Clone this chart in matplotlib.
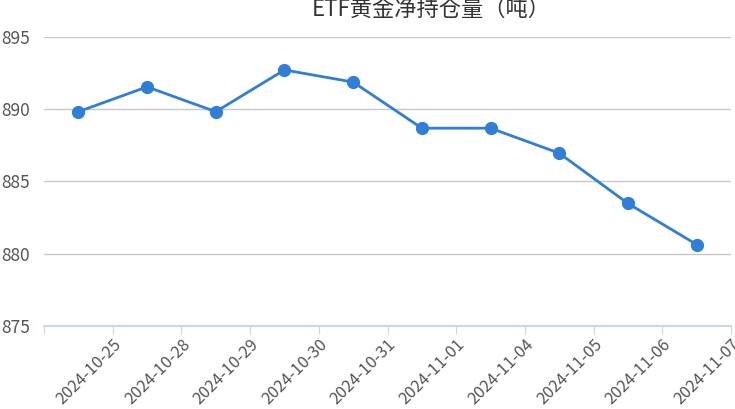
import numpy as np
import matplotlib
matplotlib.use('Agg')
import matplotlib.pyplot as plt

plt.rcParams['font.family'] = ['Noto Sans CJK SC', 'DejaVu Sans']

# data
dates = ['2024-10-25', '2024-10-28', '2024-10-29', '2024-10-30', '2024-10-31',
         '2024-11-01', '2024-11-04', '2024-11-05', '2024-11-06', '2024-11-07']
holdings = [889.83, 891.55, 889.83, 892.72, 891.88, 888.69, 888.69, 886.96, 883.48, 880.64]
title = 'ETF黄金净持仓量（吨）'

fig = plt.figure(figsize=(7.35, 4.09), dpi=100)
ax = fig.add_axes([44/735, 1-326/409, (731-44)/735, (326-37)/409])

x = np.arange(len(dates))
ax.plot(x, holdings, color='#2f7ed8', lw=2, marker='o', ms=8.5, zorder=3, clip_on=False)

ax.set_xlim(-0.5, len(dates) - 0.5)
ax.set_ylim(875, 895)
ax.set_yticks([875, 880, 885, 890, 895])
ax.grid(axis='y', color='#c8c8c8', lw=1)
ax.set_axisbelow(True)

# ticks on category edges, each label ends at the right edge of its category
ax.set_xticks(np.arange(-0.5, len(dates), 1.0))
ax.set_xticklabels([''] + dates)
for lab in ax.get_xticklabels():
    lab.set_rotation(45)
    lab.set_ha('right')
    lab.set_va('top')
    lab.set_rotation_mode('anchor')

ax.tick_params(axis='x', length=6, color='#ccd6eb', labelsize=11.8, labelcolor='#555555', pad=1)
ax.tick_params(axis='y', length=0, labelsize=12.5, labelcolor='#555555', pad=10)

for s in ['top', 'right', 'left']:
    ax.spines[s].set_visible(False)
ax.spines['bottom'].set_color('#ccd6eb')
ax.spines['bottom'].set_linewidth(1.5)

fig.text(431/735, 1-9/409, title, ha='center', va='center', fontsize=16, color='#333333')

fig.savefig('out.png', dpi=100)
